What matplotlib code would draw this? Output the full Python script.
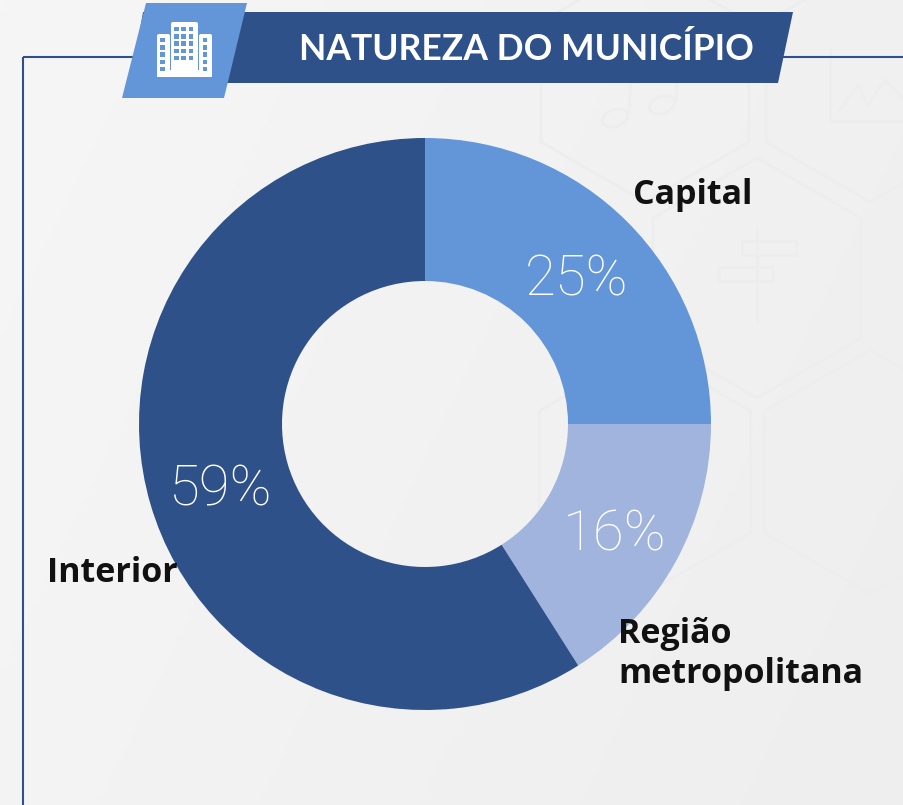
import numpy as np
import matplotlib
matplotlib.use("Agg")
import matplotlib.pyplot as plt
from matplotlib.patches import Polygon, Rectangle, FancyBboxPatch, Ellipse

# data
categories = ["Capital", "Região\nmetropolitana", "Interior"]
values = [25, 16, 59]
pct_labels = ["25%", "16%", "59%"]
colors = ["#6396D9", "#A0B4DE", "#2F5189"]
title = "NATUREZA DO MUNICÍPIO"

W, H = 904, 805
DARK = "#2F5189"
LIGHT = "#6396D9"
FAINT = "#ededed"

plt.rcParams["font.family"] = ["Lato", "DejaVu Sans"]

fig = plt.figure(figsize=(W / 100, H / 100), dpi=100)

# background in pixel coords
bg = fig.add_axes([0, 0, 1, 1])
bg.set_xlim(0, W)
bg.set_ylim(H, 0)
bg.axis("off")

gx, gy = np.meshgrid(np.linspace(0, 1, 200), np.linspace(0, 1, 200))
bg.imshow(0.7 * gx + 0.3 * gy, extent=[0, W, H, 0], aspect="auto", zorder=0,
          cmap=matplotlib.colors.LinearSegmentedColormap.from_list("bg", ["#f6f6f6", "#eeeeee"]),
          vmin=0, vmax=1)


# faint hexagons behind the chart
def hexagon(cx, cy, r):
    ang = np.radians(np.arange(30, 390, 60))
    return np.c_[cx + r * np.cos(ang), cy + r * np.sin(ang)]


for cx, cy, r in [(645, 82, 120), (870, 82, 120), (757, 278, 120), (645, 472, 122), (870, 472, 122)]:
    bg.add_patch(Polygon(hexagon(cx, cy, r), closed=True, fill=False, ec=FAINT, lw=2, zorder=1))

# music note, sign post, chart icon, also faint
for cx, cy in [(615, 118), (662, 105)]:
    bg.add_patch(Ellipse((cx, cy), 26, 17, angle=-20, fill=False, ec=FAINT, lw=2, zorder=1))
bg.plot([629, 631], [112, 80], color=FAINT, lw=2, zorder=1)
bg.plot([676, 677], [100, 80], color=FAINT, lw=2, zorder=1)
bg.plot([757, 757], [230, 322], color=FAINT, lw=2, zorder=1)
bg.add_patch(Rectangle((742, 241), 54, 14, fill=False, ec=FAINT, lw=2, zorder=1))
bg.add_patch(Rectangle((719, 267), 54, 14, fill=False, ec=FAINT, lw=2, zorder=1))
bg.plot([830, 830, 904], [50, 121, 121], color=FAINT, lw=2, zorder=1)
bg.plot([840, 858, 868, 885, 904], [110, 85, 105, 80, 100], color=FAINT, lw=2, zorder=1)

# frame line
bg.plot([23, 23], [H, 57], color=DARK, lw=1.5, zorder=2, solid_capstyle="butt")
bg.plot([23, 135], [57, 57], color=DARK, lw=1.5, zorder=2, solid_capstyle="butt")
bg.plot([780, W], [57, 57], color=DARK, lw=1.5, zorder=2, solid_capstyle="butt")

# title banner
bg.add_patch(Polygon([(143, 12), (793, 12), (778, 83), (131, 83)], closed=True, fc=DARK, ec="none", zorder=3))
bg.add_patch(Polygon([(146, 3), (247, 3), (224, 98), (122, 98)], closed=True, fc=LIGHT, ec="none", zorder=4))
bg.text(526, 49, title, color="white", fontsize=25.6, fontweight="bold", ha="center", va="center", zorder=5)

# building icon
for x0, y0, w, h in [(157, 34, 13, 43), (171, 22, 27, 55), (199, 34, 13, 43)]:
    bg.add_patch(FancyBboxPatch((x0, y0), w, h, boxstyle="round,pad=0,rounding_size=2",
                                fc="white", ec="none", zorder=5))
bg.add_patch(Rectangle((157, 70), 55, 7, fc="white", ec="none", zorder=5))
for i in range(5):
    y = 27 + i * 7.2
    for x in [174.5, 181.5, 189]:
        bg.add_patch(Rectangle((x, y), 4.5, 4.5, fc=LIGHT, ec="none", zorder=6))
    yy = 38 + i * 7.2
    for x in [160.5, 203]:
        bg.add_patch(Rectangle((x, yy), 4.5, 4.5, fc=LIGHT, ec="none", zorder=6))

# donut
cx, cy, R = 425, 424, 286
ax = fig.add_axes([(cx - R) / W, 1 - (cy + R) / H, 2 * R / W, 2 * R / H])
ax.patch.set_alpha(0)
ax.pie(values, colors=colors, startangle=90, counterclock=False, radius=1,
       wedgeprops=dict(width=0.5, linewidth=0))
ax.set_xlim(-1, 1)
ax.set_ylim(-1, 1)

# labels
pct_pos = [(577, 280), (615, 535), (221, 490)]
for txt, (x, y) in zip(pct_labels, pct_pos):
    fig.text(x / W, 1 - y / H, txt, color="white", fontsize=40.5, family="Roboto", fontweight="light",
             ha="center", va="center", zorder=7)

label_font = ["Open Sans", "DejaVu Sans"]
fig.text(633 / W, 1 - 195 / H, categories[0], fontsize=24.5, fontweight="bold", family=label_font,
         color="#111111", va="center", zorder=8)
fig.text(618 / W, 1 - 654 / H, categories[1], fontsize=24.5, fontweight="bold", family=label_font,
         color="#111111", va="center", linespacing=1.25, zorder=8)
fig.text(47 / W, 1 - 573 / H, categories[2], fontsize=24.5, fontweight="bold", family=label_font,
         color="#111111", va="center", zorder=8)

fig.savefig("out.png", dpi=100)
